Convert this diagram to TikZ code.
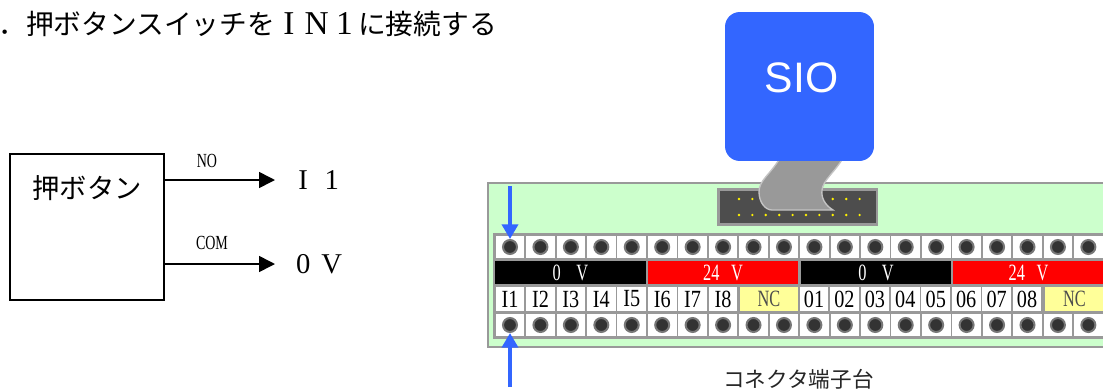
\documentclass[tikz,border=0pt]{standalone}
\usepackage{fontspec}
\setmainfont{Liberation Serif}
\newfontfamily\cjk{Noto Sans CJK JP}
\newfontfamily\narrowfont[FakeStretch=0.7]{Liberation Serif}
\newfontfamily\cellfont[FakeStretch=0.82]{Liberation Serif}
\newfontfamily\sioface{Liberation Sans}
\usetikzlibrary{arrows.meta}
\definecolor{sioblue}{HTML}{3366FF}
\definecolor{boardgreen}{HTML}{CCFFCC}
\definecolor{framegray}{HTML}{999999}
\definecolor{holegray}{HTML}{777777}
\definecolor{holedark}{HTML}{333333}
\definecolor{plugdark}{HTML}{4D4D4D}
\definecolor{cableedge}{HTML}{C4C4C4}
\definecolor{ncyellow}{HTML}{FFFF99}
\tikzstyle{holecell} = [fill=white, minimum width=21.5pt, minimum height=17.2pt, inner sep=0pt]
\tikzstyle{holedot} = [circle, fill=holedark, draw=holegray, line width=1.5pt, minimum size=10.5pt, inner sep=0pt]
\tikzstyle{labelcell} = [holecell, minimum height=18pt, font=\cellfont\fontsize{18.5}{18}\selectfont]
\tikzstyle{nccell} = [labelcell, fill=ncyellow, minimum width=44pt, text=black!70, font=\narrowfont\fontsize{17.5}{18}\selectfont]
\tikzstyle{powerbar} = [minimum width=113.2pt, minimum height=17.6pt, inner sep=0pt, font=\narrowfont\fontsize{17.5}{18}\selectfont]
\tikzstyle{wirelabel} = [inner sep=0pt, font=\narrowfont\fontsize{15}{16}\selectfont]
\tikzstyle{wire} = [line width=1.2pt, -{Triangle[length=12pt,width=12pt]}]
\tikzstyle{pointer} = [sioblue, line width=3pt, -{Triangle[length=11pt,width=12pt]}]
\tikzstyle{signalname} = [anchor=west, inner xsep=10.3pt, inner ysep=0pt, font=\fontsize{21.5}{24}\selectfont]
\newcommand{\zw}[1]{\makebox[1em]{\fontsize{25}{25}\selectfont #1}}
\newcommand{\sigch}[1]{\makebox[21.4pt]{#1}}
\begin{document}
\begin{tikzpicture}[x=0.75pt,y=-0.75pt]
\clip (0,0) rectangle (1103,390);
% heading
\node [anchor=west, inner sep=0pt, font=\fontsize{20.8}{22}\selectfont] (title) at (-2,24)
    {{\cjk ．押ボタンスイッチを}\makebox[20.8pt]{\fontsize{25}{25}\selectfont I}\makebox[20.8pt]{\fontsize{25}{25}\selectfont N}\makebox[20.8pt]{\fontsize{25}{25}\selectfont 1}{\cjk に接続する}};
% push button
\node [draw=black, line width=1.3pt, fill=white, minimum width=115.5pt, minimum height=110pt, inner sep=0pt] (button) at (87,227) {};
\node [inner sep=0pt, font=\cjk\fontsize{20.5}{21}\selectfont] (buttonname) at (87,188) {押ボタン};
\node [signalname] (inone) at (275,180) {\sigch{I}\sigch{1}};
\node [signalname] (zerov) at (275,264) {\sigch{0}\sigch{V}};
\draw [wire] (button.east |- inone.west) -- (inone.west);
\draw [wire] (button.east |- zerov.west) -- (zerov.west);
\node [wirelabel] (nolabel) at (207,161) {NO};
\node [wirelabel] (comlabel) at (212,243) {COM};
% board
\node [draw=framegray, line width=2pt, fill=boardgreen, anchor=north west, minimum width=480pt, minimum height=123pt, inner sep=0pt] (board) at (486.5,181.5) {};
\node [fill=framegray, anchor=north west, minimum width=480pt, minimum height=79.5pt, inner sep=0pt] (panel) at (492.5,233) {};
\foreach \i [evaluate=\i as \cx using 510+(\i-1)*30.44] in {1,...,20}{
    \node [holecell] (topcell\i) at (\cx,247) {};
    \node [holedot] (tophole\i) at (\cx,247) {};
    \node [holecell] (botcell\i) at (\cx,325) {};
    \node [holedot] (bothole\i) at (\cx,325) {};
}
\node [powerbar, fill=black, text=white] (barone) at (570.4,272.6) {0\,\,\,\,V};
\node [powerbar, fill=red, text=white] (bartwo) at (723,272.6) {24\,\,\,V};
\node [powerbar, fill=black, text=white] (barthree) at (876,272.6) {0\,\,\,\,V};
\node [powerbar, fill=red, text=white] (barfour) at (1028.5,272.6) {24\,\,\,V};
\foreach \lbl [count=\i, evaluate=\i as \cx using 510+(\i-1)*30.44] in {I1,I2,I3,I4,I5,I6,I7,I8}
    \node [labelcell] (incell\i) at (\cx,299) {\lbl};
\foreach \lbl [count=\i, evaluate=\i as \cx using 814+(\i-1)*30.44] in {01,02,03,04,05,06,07,08}
    \node [labelcell] (outcell\i) at (\cx,299) {\lbl};
\node [nccell] (ncone) at (769,299) {NC};
\node [nccell] (nctwo) at (1074.5,299) {NC};
% flat cable and plug
\node [draw=framegray, line width=2pt, fill=plugdark, minimum width=119pt, minimum height=26.5pt, inner sep=0pt] (plug) at (797.8,207) {};
\foreach \py in {199,215}
    \foreach \px in {739,752.4,...,860}
        \fill [yellow] (\px,\py) circle (1pt);
\draw [draw=cableedge, line width=1pt, fill=framegray] (780,158) .. controls (770,175) and (759,180) .. (759,192)
    .. controls (759,202) and (765,210) .. (772,210) -- (833,210)
    .. controls (825,205) and (821,198) .. (822,190) .. controls (823,180) and (835,172) .. (843,158) -- cycle;
\node [fill=sioblue, rounded corners=11pt, minimum size=111.7pt, inner sep=0pt, text=white, font=\sioface\fontsize{32}{34}\selectfont] (sio) at (799.5,86.5) {\hspace{3pt}\raisebox{14pt}{SIO}};
\node [inner sep=0pt, font=\cjk\fontsize{16.2}{18}\selectfont, text=black!85] (boardname) at (798.5,379) {コネクタ端子台};
% pointers to terminal I1
\coordinate (topstart) at (510,186);
\coordinate (botstart) at (510,387);
\draw [pointer] (topstart) -- (tophole1.north);
\draw [pointer] (botstart) -- (bothole1.south);
\end{tikzpicture}
\end{document}
